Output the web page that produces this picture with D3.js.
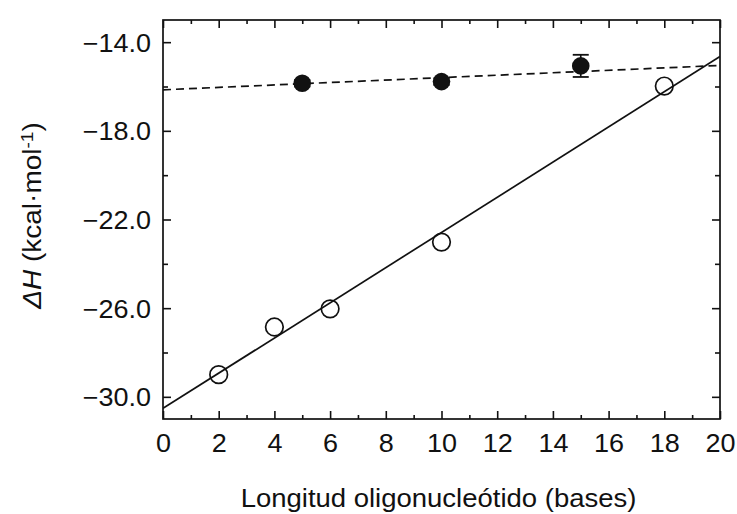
<!DOCTYPE html>
<html><head><meta charset="utf-8">
<script src="https://cdn.jsdelivr.net/npm/d3@7"></script>
<style>
body{margin:0;background:#fff;}
text{font-family:"Liberation Sans",Arial,Helvetica,sans-serif;fill:#111;}
</style></head>
<body><svg id="c" width="737" height="514"></svg>
<script>
// Data
const openX = [2, 4, 6, 10, 18];
const openY = [-29.0, -26.85, -26.03, -23.02, -15.98];
const filledX = [5, 10, 15];
const filledY = [-15.85, -15.78, -15.07];
const filledErr = [0.15, 0.15, 0.5];
const solidFitX = [0, 20];
const solidFitY = [-30.52, -14.65];
const dashedFitX = [0, 20];
const dashedFitY = [-16.15, -15.05];
const xTicks = [0,2,4,6,8,10,12,14,16,18,20];
const xMinor = [1,3,5,7,9,11,13,15,17,19];
const yTicks = [-14,-18,-22,-26,-30];
const yMinor = [-16,-20,-24,-28];
const xTitle = "Longitud oligonucleótido (bases)";

const svg = d3.select("#c");
const L=163, R=720, T=20, B=419;
const x = d3.scaleLinear().domain([0,20]).range([L,R]);
const y = d3.scaleLinear().domain([-31,-13]).range([B,T]);
const FS = 25, SX = 1.08;

// frame
svg.append("rect").attr("x",L).attr("y",T).attr("width",R-L).attr("height",B-T)
  .attr("fill","none").attr("stroke","#111").attr("stroke-width",1.7);

function styleAxis(g){
  g.select(".domain").remove();
  g.selectAll(".tick line").attr("stroke","#111").attr("stroke-width",1.6);
}
// bottom
const bx = svg.append("g").attr("transform",`translate(0,${B})`)
  .call(d3.axisBottom(x).tickValues(xTicks).tickSize(-8).tickPadding(0).tickFormat(d3.format("d")));
styleAxis(bx);
bx.selectAll(".tick text").attr("font-size",FS).attr("y",0).attr("dy",0)
  .attr("transform",`translate(0,33) scale(${SX},1)`);
svg.append("g").attr("transform",`translate(0,${B})`)
  .call(d3.axisBottom(x).tickValues(xMinor).tickSize(-4).tickFormat("")).call(styleAxis);
// top
svg.append("g").attr("transform",`translate(0,${T})`)
  .call(d3.axisTop(x).tickValues(xTicks).tickSize(-8).tickFormat("")).call(styleAxis);
svg.append("g").attr("transform",`translate(0,${T})`)
  .call(d3.axisTop(x).tickValues(xMinor).tickSize(-4).tickFormat("")).call(styleAxis);
// left
const ly = svg.append("g").attr("transform",`translate(${L},0)`)
  .call(d3.axisLeft(y).tickValues(yTicks).tickSize(-8).tickPadding(0).tickFormat(d3.format(".1f")));
styleAxis(ly);
ly.selectAll(".tick text").attr("font-size",FS).attr("x",0).attr("dy","0.36em")
  .attr("transform",`translate(-12,0) scale(${SX},1)`);
svg.append("g").attr("transform",`translate(${L},0)`)
  .call(d3.axisLeft(y).tickValues(yMinor).tickSize(-5).tickFormat("")).call(styleAxis);
// right
svg.append("g").attr("transform",`translate(${R},0)`)
  .call(d3.axisRight(y).tickValues(yTicks).tickSize(-8).tickFormat("")).call(styleAxis);
svg.append("g").attr("transform",`translate(${R},0)`)
  .call(d3.axisRight(y).tickValues(yMinor).tickSize(-5).tickFormat("")).call(styleAxis);

// clip
svg.append("clipPath").attr("id","pc").append("rect").attr("x",L).attr("y",T).attr("width",R-L).attr("height",B-T);
const plot = svg.append("g").attr("clip-path","url(#pc)");
const line = d3.line().x(d=>x(d[0])).y(d=>y(d[1]));
plot.append("path").datum(solidFitX.map((v,i)=>[v,solidFitY[i]])).attr("d",line)
  .attr("fill","none").attr("stroke","#111").attr("stroke-width",1.7);
plot.append("path").datum(dashedFitX.map((v,i)=>[v,dashedFitY[i]])).attr("d",line)
  .attr("fill","none").attr("stroke","#111").attr("stroke-width",1.7).attr("stroke-dasharray","8,5");

// error bars
const fd = filledX.map((v,i)=>({x:v,y:filledY[i],e:filledErr[i]}));
const eb = svg.append("g").selectAll("g").data(fd).join("g");
eb.append("line").attr("x1",d=>x(d.x)).attr("x2",d=>x(d.x)).attr("y1",d=>y(d.y-d.e)).attr("y2",d=>y(d.y+d.e))
  .attr("stroke","#111").attr("stroke-width",1.6);
eb.selectAll(".cap").data(d=>[[d.x,d.y-d.e],[d.x,d.y+d.e]]).join("line")
  .attr("x1",d=>x(d[0])-8).attr("x2",d=>x(d[0])+8).attr("y1",d=>y(d[1])).attr("y2",d=>y(d[1]))
  .attr("stroke","#111").attr("stroke-width",1.8);
svg.append("g").selectAll("circle").data(fd).join("circle")
  .attr("cx",d=>x(d.x)).attr("cy",d=>y(d.y)).attr("r",8.8).attr("fill","#111");
svg.append("g").selectAll("circle").data(openX.map((v,i)=>[v,openY[i]])).join("circle")
  .attr("cx",d=>x(d[0])).attr("cy",d=>y(d[1])).attr("r",8.8)
  .attr("fill","none").attr("stroke","#111").attr("stroke-width",1.7);

// titles
svg.append("text").attr("transform",`translate(${(L+R)/2-3},507) scale(${SX+0.02},1)`).attr("text-anchor","middle")
  .attr("font-size",FS).text(xTitle);
const yt = svg.append("text").attr("transform",`translate(41,${(T+B)/2-4}) rotate(-90) scale(${SX+0.04},1)`)
  .attr("text-anchor","middle").attr("font-size",FS);
yt.append("tspan").attr("font-style","italic").text("ΔH");
yt.append("tspan").text(" (kcal·mol");
yt.append("tspan").attr("font-size",FS*0.68).attr("dy",-8).text("-1");
yt.append("tspan").attr("dy",8).text(")");
</script></body></html>
